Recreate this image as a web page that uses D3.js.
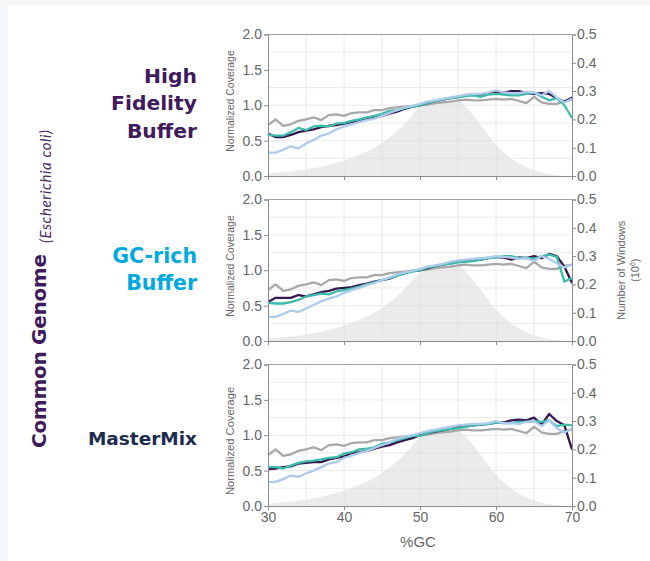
<!DOCTYPE html>
<html>
<head>
<meta charset="utf-8">
<script src="https://cdn.jsdelivr.net/npm/d3@7"></script>
<style>
  html, body { margin: 0; padding: 0; background: #fff; }
  svg { display: block; }
</style>
</head>
<body>
<div id="chart"></div>
<script>
// GC content bins (%GC)
const gcBins = d3.range(30, 71);

// genome-wide window counts (10^6) per %GC bin, shaded area
const windowCounts = [0.010, 0.011, 0.013, 0.016, 0.019, 0.023, 0.028, 0.033, 0.039, 0.046, 0.055,
  0.064, 0.075, 0.087, 0.100, 0.117, 0.136, 0.158, 0.185, 0.215, 0.242, 0.252, 0.258, 0.263, 0.266,
  0.269, 0.245, 0.215, 0.180, 0.145, 0.110, 0.085, 0.062, 0.045, 0.031, 0.020, 0.012, 0.006, 0.003,
  0.001, 0.000];

// competitor reference (gray), same in every panel
const grayRef = [0.72, 0.80, 0.71, 0.73, 0.78, 0.80, 0.83, 0.79, 0.86, 0.87, 0.85, 0.89, 0.90, 0.90,
  0.93, 0.93, 0.96, 0.97, 0.98, 0.99, 1.00, 1.01, 1.03, 1.04, 1.05, 1.07, 1.08, 1.07, 1.07, 1.08,
  1.09, 1.08, 1.09, 1.06, 1.03, 1.12, 1.04, 1.02, 1.02, 1.06, 1.08];

// High Fidelity Buffer panel
const hfPurple = [0.60, 0.55, 0.55, 0.58, 0.62, 0.64, 0.66, 0.69, 0.71, 0.72, 0.74, 0.76, 0.79, 0.81,
  0.83, 0.85, 0.88, 0.91, 0.95, 0.98, 1.00, 1.03, 1.06, 1.08, 1.10, 1.12, 1.14, 1.15, 1.15, 1.17,
  1.19, 1.18, 1.20, 1.20, 1.17, 1.16, 1.17, 1.16, 1.10, 1.05, 1.11];
const hfTeal = [0.58, 0.57, 0.57, 0.62, 0.68, 0.65, 0.70, 0.71, 0.70, 0.74, 0.75, 0.78, 0.80, 0.83,
  0.85, 0.88, 0.92, 0.93, 0.96, 0.98, 1.00, 1.03, 1.06, 1.08, 1.10, 1.11, 1.13, 1.14, 1.12, 1.15,
  1.16, 1.15, 1.14, 1.14, 1.16, 1.18, 1.12, 1.07, 1.10, 1.00, 0.82];
const hfBlue = [0.33, 0.33, 0.37, 0.42, 0.39, 0.46, 0.51, 0.57, 0.60, 0.66, 0.70, 0.73, 0.76, 0.79,
  0.81, 0.85, 0.89, 0.93, 0.97, 0.99, 1.02, 1.05, 1.07, 1.09, 1.11, 1.13, 1.15, 1.16, 1.16, 1.18,
  1.21, 1.18, 1.17, 1.17, 1.19, 1.18, 1.14, 1.20, 1.11, 1.04, 1.09];

// GC-rich Buffer panel
const gcPurple = [0.55, 0.61, 0.61, 0.61, 0.65, 0.63, 0.66, 0.69, 0.71, 0.74, 0.75, 0.76, 0.79, 0.81,
  0.84, 0.86, 0.88, 0.93, 0.96, 0.99, 1.00, 1.03, 1.06, 1.08, 1.10, 1.12, 1.13, 1.14, 1.15, 1.17,
  1.19, 1.18, 1.15, 1.18, 1.17, 1.20, 1.17, 1.23, 1.20, 1.05, 0.82];
const gcTeal = [0.54, 0.53, 0.53, 0.55, 0.58, 0.63, 0.65, 0.67, 0.66, 0.70, 0.72, 0.74, 0.77, 0.80,
  0.83, 0.86, 0.89, 0.92, 0.96, 0.98, 1.00, 1.04, 1.06, 1.08, 1.09, 1.11, 1.12, 1.13, 1.15, 1.17,
  1.18, 1.20, 1.20, 1.17, 1.18, 1.16, 1.20, 1.22, 1.19, 0.84, 0.89];
const gcBlue = [0.34, 0.34, 0.38, 0.43, 0.41, 0.46, 0.51, 0.56, 0.60, 0.63, 0.68, 0.72, 0.75, 0.79,
  0.82, 0.86, 0.90, 0.94, 0.97, 0.99, 1.02, 1.05, 1.07, 1.09, 1.12, 1.14, 1.15, 1.16, 1.17, 1.18,
  1.20, 1.19, 1.18, 1.16, 1.17, 1.13, 1.20, 1.16, 1.10, 1.04, 1.08];

// MasterMix panel
const mmPurple = [0.52, 0.53, 0.55, 0.56, 0.60, 0.61, 0.62, 0.62, 0.66, 0.68, 0.70, 0.75, 0.76, 0.78,
  0.81, 0.84, 0.86, 0.90, 0.93, 0.96, 1.00, 1.03, 1.05, 1.07, 1.09, 1.11, 1.13, 1.14, 1.15, 1.16,
  1.18, 1.18, 1.21, 1.22, 1.21, 1.25, 1.15, 1.30, 1.20, 1.14, 0.80];
const mmTeal = [0.55, 0.55, 0.53, 0.57, 0.61, 0.63, 0.64, 0.66, 0.68, 0.69, 0.74, 0.76, 0.80, 0.81,
  0.83, 0.88, 0.90, 0.93, 0.96, 0.99, 0.99, 1.03, 1.06, 1.07, 1.09, 1.10, 1.12, 1.14, 1.15, 1.16,
  1.18, 1.17, 1.17, 1.19, 1.19, 1.20, 1.19, 1.21, 1.13, 1.15, 1.14];
const mmBlue = [0.34, 0.34, 0.38, 0.43, 0.41, 0.46, 0.50, 0.55, 0.60, 0.62, 0.68, 0.71, 0.75, 0.78,
  0.82, 0.86, 0.90, 0.95, 0.98, 1.00, 1.03, 1.06, 1.08, 1.10, 1.12, 1.14, 1.15, 1.16, 1.16, 1.17,
  1.20, 1.17, 1.17, 1.16, 1.19, 1.20, 1.13, 1.21, 1.10, 1.04, 1.10];

const panelNames = [["High", "Fidelity", "Buffer"], ["GC-rich", "Buffer"], ["MasterMix"]];
const panelColors = ["#401a5c", "#00a9e0", "#1d2b4e"];
const panelSeries = [
  [grayRef, hfPurple, hfTeal, hfBlue],
  [grayRef, gcPurple, gcTeal, gcBlue],
  [grayRef, mmPurple, mmTeal, mmBlue]
];
const seriesColors = ["#a8a8a8", "#35184f", "#3dbcaa", "#aecaec"];
const leftTicks = [0, 0.5, 1.0, 1.5, 2.0];
const rightTicks = [0, 0.1, 0.2, 0.3, 0.4, 0.5];
const xTicks = [30, 40, 50, 60, 70];

const W = 650, H = 561;
const plotLeft = 268, plotRight = 572, plotH = 141.5;
const panelTops = [34.5, 199.5, 364.5];
// baselines of the panel names, and centre / size of the y labels
const nameBaselines = [[82.5, 110, 137.5], [263, 290], [444.5]];
const nameSizes = [20.3, 20.5, 18.5];
const ylabCenters = [101, 266, 441];
const ylabSizes = [10.5, 10.5, 11.2];

const svg = d3.select("#chart").append("svg")
  .attr("width", W).attr("height", H);

// faint page edge strips
svg.append("rect").attr("x", 0).attr("y", 0).attr("width", 8).attr("height", H).attr("fill", "#f6f7f9");
svg.append("rect").attr("x", 0).attr("y", 0).attr("width", W).attr("height", 5).attr("fill", "#f6f7f9");

const x = d3.scaleLinear().domain([30, 70]).range([plotLeft, plotRight]);
const tickFont = "Liberation Sans, Arial, sans-serif";
const boldFont = "DejaVu Sans, sans-serif";

panelTops.forEach((top, p) => {
  const yL = d3.scaleLinear().domain([0, 2]).range([top + plotH, top]);
  const yR = d3.scaleLinear().domain([0, 0.5]).range([top + plotH, top]);
  const g = svg.append("g");

  // window-count density
  const area = d3.area()
    .x((d, i) => x(gcBins[i]))
    .y0(yR(0))
    .y1(d => yR(d))
    .curve(d3.curveMonotoneX);
  g.append("path").datum(windowCounts)
    .attr("d", area)
    .attr("fill", "#ebebeb");

  // grid
  g.selectAll(".vg").data(d3.range(35, 70, 5)).enter().append("line")
    .attr("x1", d => x(d)).attr("x2", d => x(d))
    .attr("y1", top).attr("y2", top + plotH)
    .attr("stroke", "#dcdcdc").attr("stroke-opacity", 0.6).attr("stroke-width", 1);
  g.selectAll(".hg").data(d3.range(0.25, 2, 0.25)).enter().append("line")
    .attr("x1", plotLeft).attr("x2", plotRight)
    .attr("y1", d => yL(d)).attr("y2", d => yL(d))
    .attr("stroke", "#dcdcdc").attr("stroke-opacity", 0.6).attr("stroke-width", 1);

  // coverage lines
  const line = d3.line()
    .x((d, i) => x(gcBins[i]))
    .y(d => yL(d));
  panelSeries[p].forEach((s, k) => {
    g.append("path").datum(s)
      .attr("d", line)
      .attr("fill", "none")
      .attr("stroke", seriesColors[k])
      .attr("stroke-width", 2.3)
      .attr("stroke-linejoin", "round");
  });

  // frame
  g.append("line").attr("x1", plotLeft).attr("x2", plotRight)
    .attr("y1", top).attr("y2", top).attr("stroke", "#a0a0a0");

  const axisL = g.append("g").attr("transform", `translate(${plotLeft},0)`)
    .call(d3.axisLeft(yL).tickValues(leftTicks).tickFormat(d3.format(".1f")).tickSize(4).tickPadding(2));
  const axisR = g.append("g").attr("transform", `translate(${plotRight},0)`)
    .call(d3.axisRight(yR).tickValues(rightTicks).tickFormat(d3.format(".1f")).tickSize(4).tickPadding(1));
  const axisB = g.append("g").attr("transform", `translate(0,${top + plotH})`)
    .call(d3.axisBottom(x).tickValues(xTicks).tickSize(4).tickPadding(2));
  if (p < 2) axisB.selectAll("text").remove();

  [axisL, axisR, axisB].forEach(a => {
    a.select(".domain").attr("stroke", "#8c8c8c");
    a.selectAll(".tick line").attr("stroke", "#8c8c8c");
    a.selectAll("text").attr("fill", "#666").style("font-family", tickFont).style("font-size", "14px");
  });

  // y label
  g.append("text")
    .attr("transform", `translate(233.5,${ylabCenters[p]}) rotate(-90)`)
    .attr("text-anchor", "middle")
    .attr("fill", "#666")
    .style("font-family", tickFont)
    .style("font-size", ylabSizes[p] + "px")
    .text("Normalized Coverage");

  // panel name
  panelNames[p].forEach((n, i) => {
    g.append("text")
      .attr("x", 197)
      .attr("y", nameBaselines[p][i])
      .attr("text-anchor", "end")
      .attr("fill", panelColors[p])
      .style("font-family", boldFont)
      .style("font-weight", "bold")
      .style("font-size", nameSizes[p] + "px")
      .text(n);
  });

  if (p === 1) {
    const rl = g.append("text")
      .attr("transform", `translate(625,${top + plotH / 2}) rotate(-90)`)
      .attr("text-anchor", "middle")
      .attr("fill", "#666")
      .style("font-family", tickFont)
      .style("font-size", "11px");
    rl.append("tspan").attr("x", 0).attr("dy", 0).text("Number of Windows");
    const t2 = rl.append("tspan").attr("x", 0).attr("dy", 14).text("(10");
    t2.append("tspan").attr("dy", -4).style("font-size", "7px").text("6");
    rl.append("tspan").attr("dy", 4).text(")");
  }
});

// x axis title
svg.append("text")
  .attr("x", x(50) - 2).attr("y", 547)
  .attr("text-anchor", "middle")
  .attr("fill", "#666")
  .style("font-family", tickFont)
  .style("font-size", "15px")
  .text("%GC");

// vertical genome title
svg.append("text")
  .attr("transform", "translate(45.5,448) rotate(-90)")
  .attr("fill", "#401a5c")
  .style("font-family", boldFont)
  .style("font-weight", "bold")
  .style("font-size", "20px")
  .attr("textLength", 194)
  .attr("lengthAdjust", "spacing")
  .text("Common Genome");
svg.append("text")
  .attr("transform", "translate(50.5,243) rotate(-90)")
  .attr("fill", "#4a2d63")
  .style("font-family", "Lato, sans-serif")
  .style("font-style", "italic")
  .style("font-size", "15px")
  .attr("textLength", 113)
  .attr("lengthAdjust", "spacing")
  .text("(Escherichia coli)");
</script>
</body>
</html>
